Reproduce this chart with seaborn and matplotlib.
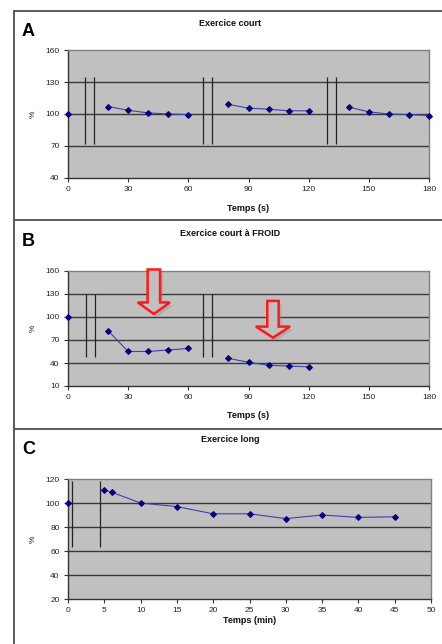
import matplotlib
matplotlib.use("Agg")
import matplotlib.pyplot as plt
import seaborn as sns
import pandas as pd
from matplotlib.lines import Line2D
from matplotlib.patches import FancyArrow

sns.set_theme(style="white")
plt.rcParams['font.family'] = ['Liberation Sans', 'DejaVu Sans']

# ---------------- data ----------------
a_time = [0, 20, 30, 40, 50, 60, 80, 90, 100, 110, 120, 140, 150, 160, 170, 180]
a_value = [100, 107, 103.5, 101, 100, 99.5, 109, 105.5, 104.5, 103, 103, 106.5, 102, 100, 99.5, 98.5]
a_segment = [0, 1, 1, 1, 1, 1, 2, 2, 2, 2, 2, 3, 3, 3, 3, 3]

b_time = [0, 20, 30, 40, 50, 60, 80, 90, 100, 110, 120]
b_value = [100, 82, 55, 55, 57, 59, 46, 41, 37, 36, 35]
b_segment = [0, 1, 1, 1, 1, 1, 2, 2, 2, 2, 2]

c_time = [0, 5, 6, 10, 15, 20, 25, 30, 35, 40, 45]
c_value = [100, 111, 109, 100, 97, 91, 91, 87, 90, 88, 88.5]
c_segment = [0, 1, 1, 1, 1, 1, 1, 1, 1, 1, 1]

a_breaks = [8.5, 13, 67.5, 72, 129, 133.5]
b_breaks = [9, 13.5, 67.5, 72]
c_breaks = [0.6, 4.4]

titles = ["Exercice court", "Exercice court à FROID", "Exercice long"]
letters = ["A", "B", "C"]
xlabels = ["Temps (s)", "Temps (s)", "Temps (min)"]

W, H = 442, 644
fig = plt.figure(figsize=(W / 100, H / 100), dpi=100)

def fx(px):
    return px / W

def fy(py):
    return 1 - py / H

BG = "#c0c0c0"
GRID = "#3a3a3a"
LINE = "#4040b0"
MARK = "#000080"

def make_axes(left, right, top, bottom):
    return fig.add_axes([fx(left), fy(bottom), fx(right - left), (bottom - top) / H])

def style(ax, xlim, xticks, ylim, yticks, xlabel, xlabelpad):
    ax.set_facecolor(BG)
    ax.set_xlim(*xlim)
    ax.set_ylim(*ylim)
    ax.set_xticks(xticks)
    ax.set_yticks(yticks)
    for y in yticks[1:-1]:
        ax.axhline(y, color=GRID, lw=1.0, zorder=1)
    for s in ["top", "right"]:
        ax.spines[s].set_color("#808080")
        ax.spines[s].set_linewidth(1.0)
    for s in ["left", "bottom"]:
        ax.spines[s].set_color("#333333")
        ax.spines[s].set_linewidth(1.0)
    ax.tick_params(axis="both", which="major", direction="out", length=3, width=0.8,
                   color="#333333", labelsize=6, labelcolor="#222222", pad=3,
                   bottom=True, left=True)
    ax.set_xlabel(xlabel, fontsize=6.5, fontweight="bold", labelpad=xlabelpad, color="#111111")
    ax.set_ylabel("%", fontsize=6, labelpad=6, color="#222222")

def draw_series(ax, t, v, seg):
    df = pd.DataFrame({"t": t, "v": v, "seg": seg})
    sns.lineplot(data=df, x="t", y="v", units="seg", estimator=None, ax=ax,
                 color=LINE, lw=0.8, marker="D", markersize=3.0,
                 markerfacecolor=MARK, markeredgecolor=MARK, zorder=3)
    for ln in ax.get_lines():
        ln.set_clip_on(False)
    ax.set_xlabel("")
    ax.set_ylabel("")

# Panel A
axA = make_axes(68, 429, 50, 178)
draw_series(axA, a_time, a_value, a_segment)
axA.vlines(a_breaks, 72, 135, color="#222222", lw=0.9, zorder=2)
style(axA, (0, 180), list(range(0, 181, 30)), (40, 160), [40, 70, 100, 130, 160], xlabels[0], 8)

# Panel B
axB = make_axes(68, 429, 271, 386)
draw_series(axB, b_time, b_value, b_segment)
axB.vlines(b_breaks, 48, 130, color="#222222", lw=0.9, zorder=2)
style(axB, (0, 180), list(range(0, 181, 30)), (10, 160), [10, 40, 70, 100, 130, 160], xlabels[1], 7)

arrows = [(42.8, 162, 104, 6.2, 16, 15), (102.2, 121, 73, 5.7, 17, 14.5)]
for (xc, ytop, ytip, sw, hw, hl) in arrows:
    shadow = FancyArrow(xc + 1.5, ytop - 4, 0, (ytip - ytop), width=sw, head_width=hw,
                        head_length=hl, length_includes_head=True, facecolor="#8a8a8a",
                        edgecolor="none", alpha=0.35, zorder=4, clip_on=False)
    axB.add_patch(shadow)
    arr = FancyArrow(xc, ytop, 0, (ytip - ytop), width=sw, head_width=hw,
                     head_length=hl, length_includes_head=True, facecolor=BG,
                     edgecolor="#ff1a1a", lw=1.8, zorder=5, clip_on=False)
    axB.add_patch(arr)

# Panel C
axC = make_axes(68, 431, 479, 599)
draw_series(axC, c_time, c_value, c_segment)
axC.vlines(c_breaks, 63, 118, color="#222222", lw=0.9, zorder=2)
style(axC, (0, 50), list(range(0, 51, 5)), (20, 120), [20, 40, 60, 80, 100, 120], xlabels[2], 1)

# Titles and panel letters
for title, ty in zip(titles, [23, 233, 439]):
    fig.text(fx(230), fy(ty), title, ha="center", va="center", fontsize=6.5,
             fontweight="bold", color="#111111")
for letter, ly in zip(letters, [32, 242, 450]):
    fig.text(fx(22), fy(ly), letter, ha="left", va="center", fontsize=13,
             fontweight="bold", color="#000000")

# Frame lines
fcol = "#5a5a5a"
fig.add_artist(Line2D([fx(14), fx(14)], [fy(11), fy(644)], color=fcol, lw=1.4))
for yy in [11, 220, 429]:
    fig.add_artist(Line2D([fx(14), fx(442)], [fy(yy), fy(yy)], color=fcol, lw=1.4))

fig.savefig("out.png", dpi=100, facecolor="white")
